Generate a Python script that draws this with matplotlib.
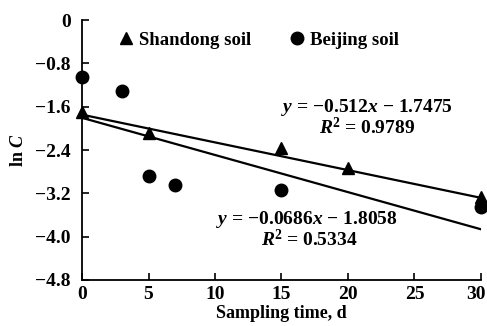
import matplotlib
matplotlib.use("Agg")
import matplotlib.pyplot as plt
from matplotlib.lines import Line2D
import matplotlib.transforms as mtransforms
import numpy as np

# Data
shandong_x = [0, 5, 15, 20, 30]
shandong_y = [-1.70, -2.08, -2.37, -2.74, -3.27]
beijing_x = [0, 3, 5, 7, 15, 30]
beijing_y = [-1.05, -1.31, -2.88, -3.04, -3.14, -3.45]
fit_shandong = (-0.0512, -1.7475)
fit_beijing = (-0.0686, -1.8058)
x_ticks = [0, 5, 10, 15, 20, 25, 30]
y_ticks = [0, -0.8, -1.6, -2.4, -3.2, -4.0, -4.8]
y_tick_labels = ["0", "\u22120.8", "\u22121.6", "\u22122.4", "\u22123.2", "\u22124.0", "\u22124.8"]

plt.rcParams['font.family'] = ['Liberation Serif', 'DejaVu Serif']
plt.rcParams['mathtext.fontset'] = 'custom'
plt.rcParams['mathtext.rm'] = 'Liberation Serif:bold'
plt.rcParams['mathtext.it'] = 'Liberation Serif:italic:bold'
plt.rcParams['mathtext.bf'] = 'Liberation Serif:bold'

fig = plt.figure(figsize=(4.87, 3.26), dpi=100)
ax = fig.add_axes([82/487, 1-280/326, (481-82)/487, (280-20)/326])

xl = np.array([0, 30])
ax.plot(xl, fit_shandong[0]*xl + fit_shandong[1], color='black', lw=1.6, zorder=2)
ax.plot(xl, fit_beijing[0]*xl + fit_beijing[1], color='black', lw=1.6, zorder=2)
ax.plot(shandong_x, shandong_y, linestyle='none', marker='^', ms=9, color='black', zorder=3, clip_on=False)
ax.plot(beijing_x, beijing_y, linestyle='none', marker='o', ms=9, color='black', zorder=3, clip_on=False)

ax.set_xlim(0, 30)
ax.set_ylim(-4.8, 0)
ax.set_xticks(x_ticks)
ax.set_yticks(y_ticks)
ax.set_yticklabels(y_tick_labels)
ax.tick_params(direction='in', length=5, width=1.2, labelsize=14)
ax.tick_params(axis='y', pad=8)
ax.tick_params(axis='x', pad=4)
for lab in ax.get_xticklabels() + ax.get_yticklabels():
    lab.set_fontweight('bold')
# nudge last x tick label slightly left so it stays inside the figure
last = ax.get_xticklabels()[-1]
last.set_transform(last.get_transform() + mtransforms.ScaledTranslation(-5/100, 0, fig.dpi_scale_trans))

ax.spines['top'].set_visible(False)
ax.spines['right'].set_visible(False)
ax.spines['left'].set_linewidth(1.3)
ax.spines['bottom'].set_linewidth(1.3)

ax.set_xlabel("Sampling time, d", fontsize=13, fontweight='bold', labelpad=2)
ax.set_ylabel(r"ln $C$", fontsize=13, fontweight='bold', labelpad=6)

handles = [Line2D([], [], linestyle='none', marker='^', ms=9, color='black'),
           Line2D([], [], linestyle='none', marker='o', ms=9, color='black')]
ax.legend(handles, ["Shandong soil", "Beijing soil"], loc='upper left',
          bbox_to_anchor=(0.05, 1.02), ncol=2, frameon=False, handlelength=0.8,
          handletextpad=0.3, columnspacing=2.0, prop={'size': 13.5, 'weight': 'bold'})

txt_kw = dict(fontsize=14, fontweight='bold', ha='center', va='center')
ax.text(21.4, -1.62, "$y$ = \u22120.512$x$ \u2212 1.7475", **txt_kw)
ax.text(21.4, -1.99, "$R$$^2$ = 0.9789", **txt_kw)
ax.text(16.9, -3.69, "$y$ = \u22120.0686$x$ \u2212 1.8058", **txt_kw)
ax.text(17.1, -4.06, "$R$$^2$ = 0.5334", **txt_kw)

fig.savefig("out.png", dpi=100)
